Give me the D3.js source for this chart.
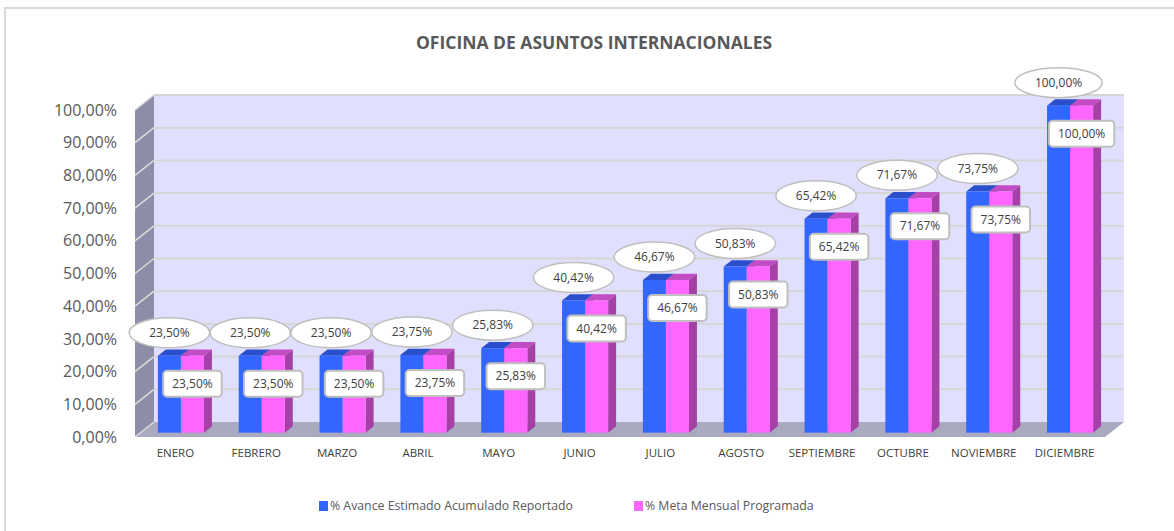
<!DOCTYPE html>
<html>
<head>
<meta charset="utf-8">
<script src="https://cdn.jsdelivr.net/npm/d3@7"></script>
<style>
  body { margin: 0; background: #fff; }
  text { font-family: "Open Sans", sans-serif; }
</style>
</head>
<body>
<div id="chart"></div>
<script>
var months = ["ENERO", "FEBRERO", "MARZO", "ABRIL", "MAYO", "JUNIO", "JULIO", "AGOSTO", "SEPTIEMBRE", "OCTUBRE", "NOVIEMBRE", "DICIEMBRE"];
var avance = [23.50, 23.50, 23.50, 23.75, 25.83, 40.42, 46.67, 50.83, 65.42, 71.67, 73.75, 100.00];
var meta = [23.50, 23.50, 23.50, 23.75, 25.83, 40.42, 46.67, 50.83, 65.42, 71.67, 73.75, 100.00];
var seriesNames = ["% Avance Estimado Acumulado Reportado", "% Meta Mensual Programada"];
var yTicks = [0, 10, 20, 30, 40, 50, 60, 70, 80, 90, 100];

var width = 1174, height = 531;
var svg = d3.select("#chart").append("svg")
  .attr("width", width)
  .attr("height", height);

// depth offset of the 3d box
var DX = 19, DY = -15;
var fmt = function(v) { return v.toFixed(2).replace(".", ",") + "%"; };

var x = d3.scaleBand().domain(months).range([135, 1105]).paddingInner(0.43).paddingOuter(0.215);
var xs = d3.scaleBand().domain([0, 1]).range([0, x.bandwidth()]);
var y = d3.scaleLinear().domain([0, 100]).range([437, 110]);

// chart border (top + left visible)
svg.append("path")
  .attr("d", "M5,531 L5,8 L1174,8")
  .attr("fill", "none").attr("stroke", "#d9d9d9").attr("stroke-width", 2);

svg.append("text")
  .attr("x", 594).attr("y", 49)
  .attr("text-anchor", "middle")
  .attr("font-size", 17.5).attr("font-weight", "bold")
  .attr("fill", "#595959")
  .text("OFICINA DE ASUNTOS INTERNACIONALES");

var x0 = x.range()[0], x1 = x.range()[1];

// back wall
svg.append("rect")
  .attr("x", x0 + DX).attr("y", y(100) + DY)
  .attr("width", x1 - x0).attr("height", y(0) - y(100))
  .attr("fill", "#e0e0fe");

// left wall
svg.append("polygon")
  .attr("points", [[x0, y(0)], [x0, y(100)], [x0 + DX, y(100) + DY], [x0 + DX, y(0) + DY]].join(" "))
  .attr("fill", "#8d8da7");

// floor
svg.append("polygon")
  .attr("points", [[x0, y(0)], [x1, y(0)], [x1 + DX, y(0) + DY], [x0 + DX, y(0) + DY]].join(" "))
  .attr("fill", "#a9a9c0");

// gridlines
var grid = svg.append("g");
yTicks.forEach(function(t) {
  if (t > 0) {
    grid.append("line")
      .attr("x1", x0 + DX).attr("x2", x1 + DX)
      .attr("y1", y(t) + DY).attr("y2", y(t) + DY)
      .attr("stroke", "#d6d6d6").attr("stroke-width", 2);
  }
  grid.append("line")
    .attr("x1", x0).attr("x2", x0 + DX)
    .attr("y1", y(t)).attr("y2", y(t) + DY)
    .attr("stroke", "#dcdcdc").attr("stroke-width", 1.5);
});

// y axis labels
svg.append("g").selectAll("text")
  .data(yTicks).enter().append("text")
  .attr("x", 117).attr("y", function(d) { return y(d); })
  .attr("dy", "0.35em")
  .attr("text-anchor", "end")
  .attr("font-size", 16).attr("fill", "#595959")
  .text(function(d) { return fmt(d); });

// category labels
svg.append("g").selectAll("text")
  .data(months).enter().append("text")
  .attr("x", function(d) { return x(d) + x.bandwidth() / 2; })
  .attr("y", 457)
  .attr("text-anchor", "middle")
  .attr("font-size", 11.5).attr("fill", "#404040")
  .text(function(d) { return d; });

// bars sit in the middle of the depth
var t0 = 0.29, t1 = 0.71;
var bdx = DX * (t1 - t0), bdy = DY * (t1 - t0);
var colors = [
  { front: "#3366ff", top: "#2a4fcc", side: "#2444b0" },
  { front: "#ff66ff", top: "#c24cc4", side: "#a440a6" }
];

var bars = svg.append("g");
months.forEach(function(m, i) {
  [avance[i], meta[i]].forEach(function(v, s) {
    var bx = x(m) + xs(s) + DX * t0;
    var bw = xs.bandwidth();
    var yb = y(0) + DY * t0;
    var yt = y(v) + DY * t0;
    var c = colors[s];
    bars.append("polygon")
      .attr("points", [[bx + bw, yb], [bx + bw, yt], [bx + bw + bdx, yt + bdy], [bx + bw + bdx, yb + bdy]].join(" "))
      .attr("fill", c.side);
    bars.append("polygon")
      .attr("points", [[bx, yt], [bx + bw, yt], [bx + bw + bdx, yt + bdy], [bx + bdx, yt + bdy]].join(" "))
      .attr("fill", c.top);
    bars.append("rect")
      .attr("x", bx).attr("y", yt)
      .attr("width", bw).attr("height", yb - yt)
      .attr("fill", c.front);
  });
});

// data labels
var labels = svg.append("g");
months.forEach(function(m, i) {
  var bw = xs.bandwidth();
  // avance: ellipse above bar
  var cx = x(m) + xs(0) + DX * t0 + bw / 2;
  var cy = y(avance[i]) + DY * t0 - 23;
  var g1 = labels.append("g");
  var e = g1.append("ellipse").attr("cx", cx).attr("cy", cy)
    .attr("fill", "#fff").attr("stroke", "#bfbfbf").attr("stroke-width", 1.5);
  var t = g1.append("text").attr("x", cx).attr("y", cy).attr("dy", "0.35em")
    .attr("text-anchor", "middle").attr("font-size", 12).attr("fill", "#404040")
    .text(fmt(avance[i]));
  var tw = t.node().getComputedTextLength();
  e.attr("rx", tw / 2 + 20).attr("ry", 15);

  // meta: rounded box inside bar
  var px = x(m) + xs(1) + DX * t0 + bw / 2;
  var py = y(meta[i]) + DY * t0 + 28;
  var g2 = labels.append("g");
  var r = g2.append("rect").attr("rx", 4).attr("ry", 4)
    .attr("fill", "#fff").attr("stroke", "#bfbfbf").attr("stroke-width", 2);
  var t2 = g2.append("text").attr("x", px).attr("y", py).attr("dy", "0.35em")
    .attr("text-anchor", "middle").attr("font-size", 12).attr("fill", "#404040")
    .text(fmt(meta[i]));
  var tw2 = t2.node().getComputedTextLength();
  r.attr("x", px - tw2 / 2 - 9).attr("y", py - 13)
    .attr("width", tw2 + 18).attr("height", 26);
});

// legend
var legendX = [319, 634];
var legend = svg.append("g");
seriesNames.forEach(function(name, s) {
  legend.append("rect")
    .attr("x", legendX[s]).attr("y", 501)
    .attr("width", 9).attr("height", 10)
    .attr("fill", colors[s].front);
  legend.append("text")
    .attr("x", legendX[s] + 11).attr("y", 506).attr("dy", "0.35em")
    .attr("font-size", 12.3).attr("fill", "#595959")
    .text(name);
});
</script>
</body>
</html>
